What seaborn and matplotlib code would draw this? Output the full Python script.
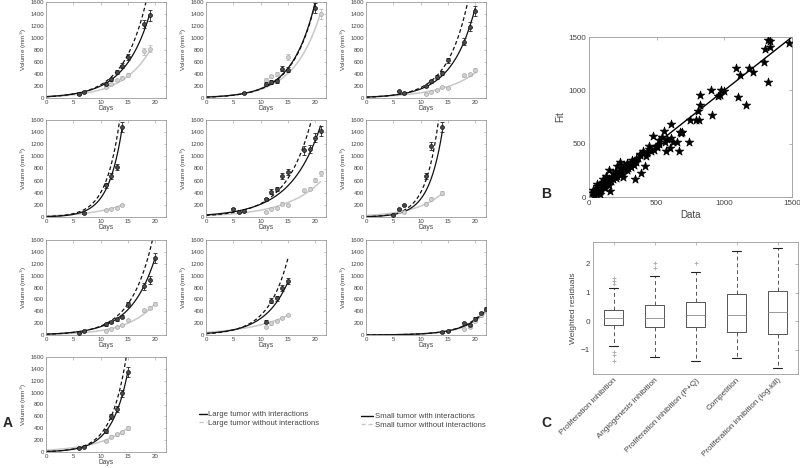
import numpy as np
import pandas as pd
import matplotlib
matplotlib.use("Agg")
import matplotlib.pyplot as plt
import seaborn as sns
from matplotlib.lines import Line2D

# ---------------- Panel A data (10 mice panels) ----------------
LARGE_DAYS = [[6, 7, 11, 12, 13, 14, 15, 18, 19],
              [7, 11, 12, 13, 14, 15, 20],
              [6, 7, 11, 12, 13, 14, 15, 18, 19, 20],
              [7, 11, 12, 13, 14],
              [5, 6, 7, 11, 12, 13, 14, 15, 18, 19, 20, 21],
              [5, 6, 7, 11, 12, 14],
              [6, 7, 11, 12, 13, 14, 15, 18, 19, 20],
              [11, 12, 13, 14, 15],
              [14, 15, 18, 19, 20, 21, 22],
              [6, 7, 11, 12, 13, 14, 15]]
LARGE_VOL = [[65, 100, 240, 310, 430, 540, 680, 1230, 1380],
             [90, 240, 270, 280, 490, 470, 1500],
             [110, 90, 200, 280, 350, 420, 630, 940, 1190, 1450],
             [65, 520, 680, 830, 1490],
             [140, 75, 95, 290, 420, 460, 670, 740, 1100, 1120, 1310, 1420],
             [40, 140, 195, 670, 1170, 1480],
             [40, 65, 180, 215, 265, 310, 520, 820, 930, 1300],
             [225, 575, 620, 790, 910],
             [45, 65, 195, 170, 270, 365, 435],
             [60, 90, 350, 600, 720, 990, 1350]]
LARGE_ERR = [[10, 12, 25, 30, 35, 40, 50, 70, 90],
             [15, 25, 30, 30, 40, 40, 90],
             [15, 15, 20, 25, 30, 35, 40, 60, 70, 90],
             [10, 40, 50, 50, 80],
             [15, 10, 10, 25, 35, 35, 50, 50, 70, 70, 80, 80],
             [10, 15, 20, 50, 70, 80],
             [8, 10, 20, 20, 25, 25, 40, 60, 70, 80],
             [30, 40, 40, 50, 50],
             [8, 10, 20, 20, 25, 30, 30],
             [10, 10, 30, 40, 50, 60, 80]]
SMALL_DAYS = [[11, 12, 13, 14, 15, 18, 19],
              [11, 12, 13, 15, 21],
              [11, 12, 13, 14, 15, 18, 19, 20],
              [11, 12, 13, 14],
              [11, 12, 13, 14, 15, 18, 19, 20, 21],
              [6, 7, 11, 12, 14],
              [11, 12, 13, 14, 15, 18, 19, 20],
              [11, 12, 13, 14, 15],
              [18, 19, 20, 21, 22],
              [11, 12, 13, 14, 15]]
SMALL_VOL = [[180, 230, 300, 340, 390, 780, 820],
             [300, 360, 400, 680, 1400],
             [70, 100, 130, 180, 170, 380, 400, 470],
             [120, 140, 150, 195],
             [85, 140, 155, 220, 195, 440, 470, 610, 720],
             [100, 85, 220, 300, 400],
             [75, 105, 135, 170, 250, 420, 460, 530],
             [140, 195, 235, 290, 335],
             [100, 140, 235, 335, 420],
             [190, 260, 300, 330, 400]]
SMALL_ERR = [[15, 20, 20, 25, 30, 60, 60],
             [30, 30, 30, 50, 80],
             [10, 10, 15, 15, 15, 25, 25, 30],
             [15, 15, 15, 20],
             [15, 15, 15, 20, 20, 30, 30, 40, 40],
             [15, 15, 20, 25, 30],
             [10, 10, 15, 15, 20, 25, 25, 30],
             [15, 20, 20, 20, 20],
             [10, 15, 20, 25, 30],
             [20, 20, 25, 25, 30]]
# fitted model curves: (initial volume, growth rate)
FIT_LARGE_WITH = [(23, 0.216), (15, 0.233), (15, 0.230), (6, 0.394), (35, 0.179),
                  (5.7, 0.394), (15, 0.223), (27, 0.233), (1.5, 0.256), (8.6, 0.337)]
FIT_LARGE_WITHOUT = [(20, 0.239), (14, 0.236), (13, 0.258), (7.6, 0.396), (26, 0.213),
                     (6, 0.42), (12.4, 0.249), (21.7, 0.272), (1.4, 0.262), (8.5, 0.356)]
FIT_SMALL_WITH = [(20, 0.193), (18, 0.208), (18, 0.157), (18, 0.172), (25, 0.150),
                  (25.7, 0.194), (10.5, 0.196), (45, 0.133), (1.37, 0.256), (31, 0.171)]

# ---------------- Panel B data ----------------
B_DATA = [1320, 1335, 1335, 1300, 1480, 1295, 1325, 1085, 1115, 1180, 1215, 1100, 1160, 975,
          905, 950, 965, 995, 820, 820, 805, 810, 790, 910, 745, 740, 670, 685, 665, 680,
          605, 608, 620, 598, 648, 568, 555, 520, 500, 470, 440, 425, 400, 378, 415, 385,
          340, 348, 315, 278, 258, 230, 205, 180, 145, 125, 106, 86, 57, 32, 155,
          300, 290, 320, 280, 260, 240, 250, 230, 210, 200, 190, 180, 170, 160, 150, 140,
          130, 120, 110, 100, 95, 90, 85, 80, 75, 70, 65, 60, 55, 50, 45, 40, 35, 30,
          350, 360, 380, 400, 420, 440, 460, 480, 500, 520, 540, 560, 580, 270, 220, 330,
          310, 100, 120, 60, 80, 150, 200, 250]
B_FIT = [1470, 1460, 1405, 1390, 1440, 1262, 1080, 1210, 1140, 1210, 1175, 935, 860, 1000,
         1005, 950, 960, 990, 960, 860, 805, 725, 725, 770, 725, 515, 605, 605, 430, 600,
         685, 555, 515, 458, 515, 430, 615, 535, 470, 570, 475, 410, 430, 405, 290, 225,
         170, 355, 350, 320, 300, 325, 290, 225, 255, 195, 165, 130, 100, 70, 55,
         300, 270, 330, 250, 260, 270, 220, 240, 200, 180, 210, 170, 190, 150, 170, 130,
         150, 110, 120, 90, 110, 70, 100, 60, 90, 50, 80, 40, 70, 30, 60, 50, 20, 40,
         330, 370, 390, 410, 380, 450, 430, 440, 480, 500, 560, 520, 540, 290, 230, 300,
         280, 140, 80, 120, 30, 110, 240, 190]

# ---------------- Panel C data (box statistics) ----------------
C_LABELS = ["Proliferation inhibition", "Angiogenesis inhibition",
            "Proliferation inhibition (P+Q)", "Competition",
            "Proliferation inhibition (log-kill)"]
C_MED = [0.10, 0.12, 0.22, 0.22, 0.33]
C_Q1 = [-0.15, -0.22, -0.20, -0.37, -0.45]
C_Q3 = [0.40, 0.55, 0.68, 0.95, 1.05]
C_WLO = [-0.88, -1.25, -1.38, -1.30, -1.65]
C_WHI = [1.17, 1.58, 1.72, 2.45, 2.57]
C_FLIERS = [[1.30, 1.42, 1.52, -1.08, -1.20, -1.38], [1.85, 2.05], [2.02], [], []]

LEGEND_LEFT = ["Large tumor with interactions", "Large tumor without interactions"]
LEGEND_RIGHT = ["Small tumor with interactions", "Small tumor without interactions"]

# ---------------- style ----------------
sns.set_theme(style="white")
plt.rcParams["font.family"] = ["Liberation Sans", "DejaVu Sans"]
plt.rcParams["axes.edgecolor"] = "#9a9a9a"
plt.rcParams["axes.linewidth"] = 0.6
TXT = "#444444"

W, H = 800, 468
fig = plt.figure(figsize=(8.0, 4.68), dpi=100)


def frac(left, top, right, bottom):
    return [left / W, 1 - bottom / H, (right - left) / W, (bottom - top) / H]


col_left = [46, 206, 366]
rows = [(2, 98), (120, 217), (240, 335), (357, 452)]
positions = []
for r in range(4):
    for c in range(3):
        if r == 3 and c > 0:
            continue
        positions.append(frac(col_left[c], rows[r][0], col_left[c] + 120, rows[r][1]))

BLACK = "#111111"
GRAY = "#c9c9c9"

for i, pos in enumerate(positions):
    ax = fig.add_axes(pos)
    tl = max(LARGE_DAYS[i])
    ts = max(SMALL_DAYS[i])
    t1 = np.linspace(0, tl, 200)
    t2 = np.linspace(0, ts, 200)
    v0, r = FIT_SMALL_WITH[i]
    sns.lineplot(x=t2, y=v0 * np.exp(r * t2), ax=ax, color=GRAY, lw=1.1, estimator=None)
    v0, r = FIT_LARGE_WITHOUT[i]
    sns.lineplot(x=t1, y=v0 * np.exp(r * t1), ax=ax, color=BLACK, lw=0.9,
                 linestyle=(0, (3, 2)), estimator=None)
    v0, r = FIT_LARGE_WITH[i]
    sns.lineplot(x=t1, y=v0 * np.exp(r * t1), ax=ax, color=BLACK, lw=0.9, estimator=None)

    ax.errorbar(SMALL_DAYS[i], SMALL_VOL[i], yerr=SMALL_ERR[i], fmt="none",
                ecolor="#bdbdbd", elinewidth=0.6, capsize=1.2, capthick=0.6)
    sns.scatterplot(x=SMALL_DAYS[i], y=SMALL_VOL[i], ax=ax, marker="o", s=8,
                    color="#d2d2d2", edgecolor="#a8a8a8", linewidth=0.5, zorder=3)
    ax.errorbar(LARGE_DAYS[i], LARGE_VOL[i], yerr=LARGE_ERR[i], fmt="none",
                ecolor="#222222", elinewidth=0.6, capsize=1.2, capthick=0.6)
    sns.scatterplot(x=LARGE_DAYS[i], y=LARGE_VOL[i], ax=ax, marker="o", s=8,
                    color="#4a4a4a", edgecolor="#111111", linewidth=0.5, zorder=4)

    ax.set_xlim(0, 22)
    ax.set_ylim(0, 1600)
    ax.set_xticks([0, 5, 10, 15, 20])
    ax.set_yticks(range(0, 1601, 200))
    ax.tick_params(direction="in", length=1.8, width=0.4, top=True, right=True,
                   labelsize=4.4, colors="#9a9a9a", labelcolor=TXT, pad=1.2)
    ax.set_xlabel("Days", fontsize=4.8, color=TXT, labelpad=0.5)
    ax.set_ylabel("Volume (mm$^3$)", fontsize=4.6, color=TXT, labelpad=1)

# ---------------- Legends ----------------
hl = [Line2D([], [], color=BLACK, lw=1.0),
      Line2D([], [], color=GRAY, lw=1.0, linestyle=(0, (3, 2)))]
fig.legend(hl, LEGEND_LEFT, loc="upper left", bbox_to_anchor=(199 / W, 1 - 411 / H),
           frameon=False, fontsize=5.6, handlelength=1.0, handletextpad=0.15,
           labelspacing=0.15, borderpad=0, borderaxespad=0, labelcolor=TXT)
fig.legend(hl, LEGEND_RIGHT, loc="upper left", bbox_to_anchor=(361 / W, 1 - 413 / H),
           frameon=False, fontsize=5.6, handlelength=1.6, handletextpad=0.15,
           labelspacing=0.15, borderpad=0, borderaxespad=0, labelcolor=TXT)

# ---------------- Panel B ----------------
axb = fig.add_axes(frac(589, 37, 792, 197))
sns.lineplot(x=[0, 1500], y=[0, 1500], ax=axb, color="black", lw=1.0, estimator=None)
sns.scatterplot(x=B_DATA, y=B_FIT, ax=axb, marker="*", s=42, color="black",
                edgecolor="black", linewidth=0.5, zorder=3)
axb.set_xlim(0, 1500)
axb.set_ylim(0, 1500)
axb.set_xticks([0, 500, 1000, 1500])
axb.set_yticks([0, 500, 1000, 1500])
axb.tick_params(direction="in", length=2.5, width=0.5, top=True, right=True,
                labelsize=5.8, colors="#9a9a9a", labelcolor=TXT, pad=2)
axb.set_xlabel("Data", fontsize=7, color=TXT, labelpad=2)
axb.set_ylabel("Fit", fontsize=7, color=TXT, labelpad=2)

# ---------------- Panel C ----------------
axc = fig.add_axes(frac(593, 242, 798, 374))
stats = []
for k in range(len(C_LABELS)):
    stats.append(dict(med=C_MED[k], q1=C_Q1[k], q3=C_Q3[k], whislo=C_WLO[k],
                      whishi=C_WHI[k], fliers=C_FLIERS[k], label=C_LABELS[k]))
axc.bxp(stats, positions=range(1, 6), widths=0.46, capwidths=0.2,
        boxprops=dict(color="#555555", lw=0.7),
        medianprops=dict(color="#999999", lw=0.7),
        whiskerprops=dict(color="#555555", lw=0.7, linestyle=(0, (4, 3))),
        capprops=dict(color="#222222", lw=0.8),
        flierprops=dict(marker="+", markeredgecolor="#aaaaaa", markersize=3,
                        markeredgewidth=0.6))
axc.set_xlim(0.5, 5.5)
axc.set_ylim(-1.85, 2.77)
axc.set_yticks([-1, 0, 1, 2])
axc.set_xticks(range(1, 6))
axc.set_xticklabels(C_LABELS, rotation=45, ha="right", rotation_mode="anchor")
axc.tick_params(direction="in", length=2.5, width=0.5, top=True, right=True,
                labelsize=5.9, colors="#9a9a9a", labelcolor=TXT, pad=2)
axc.set_ylabel("Weighted residuals", fontsize=6.0, color=TXT, labelpad=3)

# ---------------- panel letters ----------------
fig.text(3 / W, 1 - 423 / H, "A", fontsize=10, fontweight="bold", va="center", ha="left")
fig.text(541 / W, 1 - 194 / H, "B", fontsize=10, fontweight="bold", va="center", ha="left")
fig.text(541 / W, 1 - 423 / H, "C", fontsize=10, fontweight="bold", va="center", ha="left")

fig.savefig("out.png", dpi=100, facecolor="white")
